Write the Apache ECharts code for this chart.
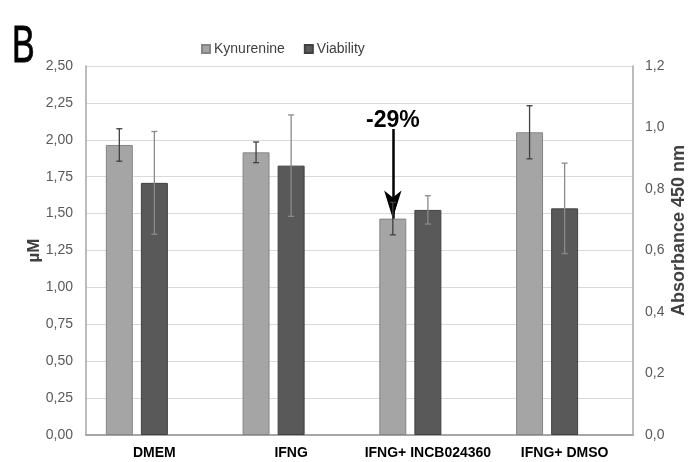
<!DOCTYPE html>
<html>
<head>
<meta charset="utf-8">
<script src="https://cdn.jsdelivr.net/npm/echarts@6/dist/echarts.min.js"></script>
<style>html,body{margin:0;padding:0;background:#fff}#c{width:688px;height:462px}</style>
</head>
<body>
<div id="c"></div>
<script>
var categories = ['DMEM', 'IFNG', 'IFNG+ INCB024360', 'IFNG+ DMSO'];
var kynurenine = [1.965, 1.915, 1.466, 2.051];
var kynurenineErr = [0.11, 0.07, 0.11, 0.18];
var viability = [0.820, 0.876, 0.732, 0.737];
var viabilityErr = [0.167, 0.165, 0.046, 0.147];
var annotationText = '-29%';
var annotationStart = 2.073;

var FONT = "'Liberation Sans', Arial, sans-serif";
var CAT_GAP = 0.29, BAR_GAP = 0.30, NBARS = 3;

function errData(vals, errs) {
  return vals.map(function (v, i) { return [i, v, errs[i]]; });
}
function errRender(slot, color) {
  return function (params, api) {
    var i = api.value(0), v = api.value(1), e = api.value(2);
    var W = api.size([1, 0])[0];
    var bw = W * (1 - CAT_GAP) / (NBARS + (NBARS - 1) * BAR_GAP);
    var dx = slot * bw * (1 + BAR_GAP);
    var top = api.coord([i, v + e]);
    var bot = api.coord([i, v - e]);
    var x = top[0] + dx;
    var cap = 3;
    var st = { stroke: color, lineWidth: 1.3 };
    return { type: 'group', children: [
      { type: 'line', shape: { x1: x, y1: top[1], x2: x, y2: bot[1] }, style: st },
      { type: 'line', shape: { x1: x - cap, y1: top[1], x2: x + cap, y2: top[1] }, style: st },
      { type: 'line', shape: { x1: x - cap, y1: bot[1], x2: x + cap, y2: bot[1] }, style: st }
    ]};
  };
}

var chart = echarts.init(document.getElementById('c'), null, { renderer: 'canvas' });
chart.setOption({
  animation: false,
  textStyle: { fontFamily: FONT },
  graphic: [{
    type: 'text', x: 12, y: 48, scaleY: 1.5,
    style: { text: 'B', font: '34px ' + FONT, fill: '#000', stroke: '#000', lineWidth: 0.6,
      textVerticalAlign: 'middle', textAlign: 'left' }
  }],
  legend: {
    data: ['Kynurenine', 'Viability'],
    left: 196, top: 37,
    itemWidth: 8, itemHeight: 8, itemGap: 19,
    icon: 'rect',
    textStyle: { fontSize: 14, color: '#404040', fontFamily: FONT, padding: [0, 0, 0, -1] }
  },
  grid: { left: 86, right: 55, top: 66, bottom: 27, containLabel: false, outerBoundsMode: 'none' },
  xAxis: {
    type: 'category', data: categories,
    axisLine: { lineStyle: { color: '#a6a6a6', width: 2 } },
    axisTick: { show: false },
    axisLabel: { fontSize: 14, fontWeight: 'bold', color: '#000', margin: 11, fontFamily: FONT, interval: 0 }
  },
  yAxis: [{
    type: 'value', min: 0, max: 2.5, interval: 0.25,
    name: 'µM', nameLocation: 'middle', nameGap: 43, nameMoveOverlap: false,
    nameTextStyle: { fontSize: 17, fontWeight: 'bold', color: '#404040', fontFamily: FONT },
    axisLine: { show: true, lineStyle: { color: '#a6a6a6', width: 1.5 } },
    axisTick: { show: false },
    splitLine: { lineStyle: { color: '#d9d9d9', width: 1.2 } },
    axisLabel: { fontSize: 14, color: '#595959', margin: 13, fontFamily: FONT,
      formatter: function (v) { return v.toFixed(2).replace('.', ','); } }
  }, {
    type: 'value', min: 0, max: 1.2, interval: 0.2, position: 'right',
    name: 'Absorbance 450 nm', nameLocation: 'middle', nameGap: 37, nameMoveOverlap: false,
    nameTextStyle: { fontSize: 18, fontWeight: 'bold', color: '#404040', fontFamily: FONT,
      padding: [0, 0, 0, 40] },
    axisLine: { show: true, lineStyle: { color: '#a6a6a6', width: 1.5 } },
    axisTick: { show: false },
    splitLine: { show: false },
    axisLabel: { fontSize: 14, color: '#595959', margin: 12, fontFamily: FONT,
      formatter: function (v) { return v.toFixed(1).replace('.', ','); } }
  }],
  series: [{
    name: 'Kynurenine', type: 'bar', yAxisIndex: 0, data: kynurenine,
    barCategoryGap: (CAT_GAP * 100) + '%', barGap: (BAR_GAP * 100) + '%',
    itemStyle: { color: '#a5a5a5', borderColor: '#858585', borderWidth: 1 },
    markLine: {
      silent: true, animation: false,
      symbol: ['none', 'arrow'], symbolSize: [13, 28],
      lineStyle: { color: '#000', width: 2.5, type: 'solid' },
      label: { show: true, position: 'start', formatter: annotationText, distance: -3,
        fontSize: 23, fontWeight: 'bold', color: '#000', fontFamily: FONT },
      data: [[{ coord: [categories[2], annotationStart] }, { coord: [categories[2], kynurenine[2]] }]]
    }
  }, {
    name: 'Viability', type: 'bar', yAxisIndex: 1, data: viability,
    barCategoryGap: (CAT_GAP * 100) + '%', barGap: (BAR_GAP * 100) + '%',
    itemStyle: { color: '#595959', borderColor: '#404040', borderWidth: 1 }
  }, {
    name: 'spacer', type: 'bar', yAxisIndex: 0, data: categories.map(function () { return '-'; }),
    barCategoryGap: (CAT_GAP * 100) + '%', barGap: (BAR_GAP * 100) + '%'
  }, {
    type: 'custom', yAxisIndex: 0, z: 5, silent: true,
    data: errData(kynurenine, kynurenineErr),
    encode: { x: 0, y: [1] },
    renderItem: errRender(-1, '#404040')
  }, {
    type: 'custom', yAxisIndex: 1, z: 5, silent: true,
    data: errData(viability, viabilityErr),
    encode: { x: 0, y: [1] },
    renderItem: errRender(0, '#8a8a8a')
  }]
});
</script>
</body>
</html>
